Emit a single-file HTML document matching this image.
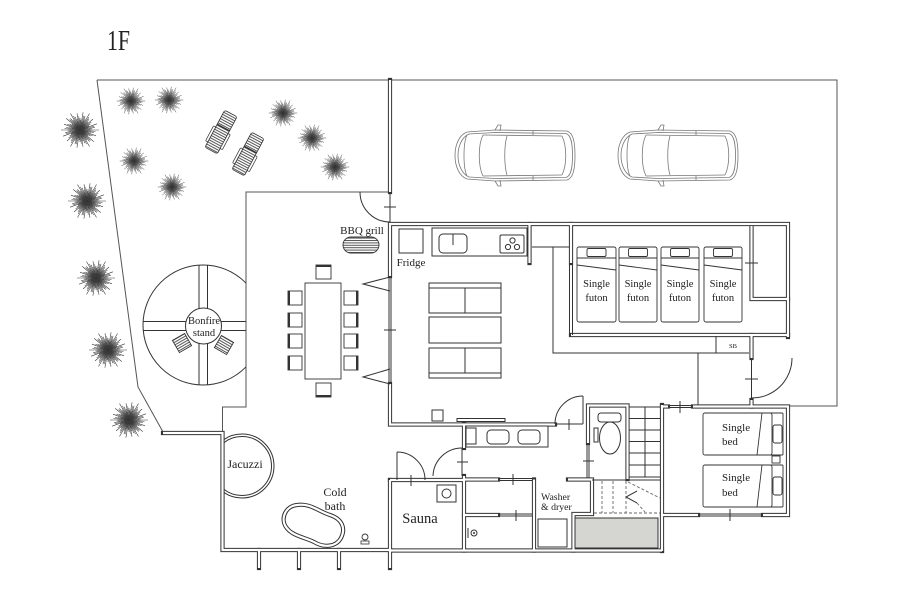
<!DOCTYPE html>
<html><head><meta charset="utf-8"><style>
html,body{margin:0;padding:0;background:#fff;}
svg{display:block;}
text{font-family:"Liberation Serif",serif;fill:#222;}
</style></head><body>
<svg width="900" height="600" viewBox="0 0 900 600" xmlns="http://www.w3.org/2000/svg">
<defs>
<pattern id="hh" width="4" height="2.4" patternUnits="userSpaceOnUse"><rect width="4" height="2.4" fill="#fff"/><rect width="4" height="1" fill="#555"/></pattern>
<clipPath id="bc"><circle cx="203" cy="325" r="60"/></clipPath>
<clipPath id="bx"><rect x="0" y="0" width="246" height="600"/></clipPath>
<clipPath id="jx"><rect x="224" y="0" width="200" height="600"/></clipPath>
<path id="sp" d="M0 0L19 0M0 0L13.8 2.4M0 0L16 5.8M0 0L10.4 6M0 0L13.8 11.6M0 0L9.6 11.5M0 0L9.5 16.5M0 0L4.8 13.2M0 0L3 16.7M0 0L0 12M0 0L-3.1 17.7M0 0L-5.1 14.1M0 0L-9.5 16.5M0 0L-9 10.7M0 0L-13 10.9M0 0L-10.4 6M0 0L-16.9 6.2M0 0L-14.8 2.6M0 0L-19 0M0 0L-13.8 -2.4M0 0L-16 -5.8M0 0L-10.4 -6M0 0L-13.8 -11.6M0 0L-9.6 -11.5M0 0L-9.5 -16.5M0 0L-4.8 -13.2M0 0L-3 -16.7M0 0L0 -12M0 0L3.1 -17.7M0 0L5.1 -14.1M0 0L9.5 -16.5M0 0L9 -10.7M0 0L13 -10.9M0 0L10.4 -6M0 0L16.9 -6.2M0 0L14.8 -2.6"/>
<g id="tree" stroke="#3a3a3a" stroke-width="0.6" fill="none">
<use href="#sp"/>
<use href="#sp" transform="rotate(5) scale(0.82)"/>
<use href="#sp" transform="rotate(-6) scale(0.55)"/>
<circle r="1.5" fill="#333" stroke="none"/>
</g>
<g id="lc">
<rect x="-7" y="-21" width="14" height="42" rx="2" fill="url(#hh)" stroke="#333" stroke-width="0.8"/>
<line x1="-7" y1="-5" x2="7" y2="-5" stroke="#333" stroke-width="1.4"/>
<rect x="-9.5" y="-2" width="2.5" height="17" rx="1" fill="#fff" stroke="#333" stroke-width="0.7"/>
<rect x="7" y="-2" width="2.5" height="17" rx="1" fill="#fff" stroke="#333" stroke-width="0.7"/>
</g>
<g id="car" fill="none" stroke="#777" stroke-width="0.8">
<path d="M12,4 C4,7 0,17 0,27.5 C0,38 4,48 12,51 L40,53 L112,52 C118,50 120,42 120,27.5 C120,13 118,5 112,3 L40,2 Z"/>
<path d="M14,6 C7,9 3,18 3,27.5 C3,37 7,46 14,49 L40,50.5 L111,49.5 C116,48 117.5,40 117.5,27.5 C117.5,15 116,7 111,5.5 L40,4.5 Z"/>
<path d="M28,7 C23,17 23,38 28,48"/>
<path d="M52,8 C49,18 49,37 52,47"/>
<path d="M107,8 C112,18 112,37 107,47"/>
<path d="M28,7 L107,8 M28,48 L107,47"/>
<path d="M12,7 C8,15 8,40 12,48"/>
<path d="M40,2 L43,-3 L46,-3 L45,3 M40,53 L43,58 L46,58 L45,52"/>
<path d="M78,3 L78,7 M78,48 L78,52"/>
</g>
<g id="W" fill="none">
<path d="M390,80V192"/>
<path d="M390,276V224H788V337"/>
<path d="M390,384V424.5H555"/>
<path d="M529.5,224V263"/>
<path d="M571,224V263"/>
<path d="M571,335H788"/>
<path d="M751.5,226V299H788"/>
<path d="M751.5,335V358"/>
<path d="M751.5,400V406.5H788V515H763"/>
<path d="M698,515H662"/>
<path d="M662,405V551"/>
<path d="M662,406.5H668"/>
<path d="M693,406.5H751.5"/>
<path d="M588,443V405.5H627.5V479"/>
<path d="M464,424V448"/>
<path d="M464,476V550.5"/>
<path d="M390,480H464"/>
<path d="M390,480V550.5H662"/>
<path d="M464,479.5H498"/>
<path d="M464,515H498"/>
<path d="M534,479.5V550.5"/>
<path d="M568,479.5H592V514H573.5V550.5"/>
<path d="M163,433H222.5V550H390"/>
<path d="M259,550V568M299,550V568M339,550V568M390,550V568"/>
<path d="M297,505 C310,503 318,511 330,515 C342,519 346,528 341,538 C336,547 324,548 314,542 C304,537 292,536 286,527 C280,518 286,506 297,505 Z"/>
</g>
</defs>

<rect width="900" height="600" fill="#fff"/>

<text x="107" y="50" font-size="29" textLength="23" lengthAdjust="spacingAndGlyphs">1F</text>

<g fill="none" stroke="#555" stroke-width="1">
<path d="M97,80H837V406H788"/>
<path d="M97,80L138,387L163,432"/>
<path d="M390,192H246V407H222.5V433"/>
</g>

<use href="#tree" transform="translate(131,101) scale(0.75)"/>
<use href="#tree" transform="translate(169,100) scale(0.75)"/>
<use href="#tree" transform="translate(80,130) scale(1)"/>
<use href="#tree" transform="translate(134,161) scale(0.75)"/>
<use href="#tree" transform="translate(172,187) scale(0.75)"/>
<use href="#tree" transform="translate(87,201) scale(1)"/>
<use href="#tree" transform="translate(283,113) scale(0.75)"/>
<use href="#tree" transform="translate(312,138) scale(0.75)"/>
<use href="#tree" transform="translate(335,167) scale(0.75)"/>
<use href="#tree" transform="translate(96,278) scale(1)"/>
<use href="#tree" transform="translate(108,350) scale(1)"/>
<use href="#tree" transform="translate(129,420) scale(1)"/>

<use href="#lc" transform="translate(221,132) rotate(28)"/>
<use href="#lc" transform="translate(248,154) rotate(28)"/>

<use href="#car" transform="translate(455,128)"/>
<use href="#car" transform="translate(618,128)"/>

<g clip-path="url(#bx)">
<circle cx="203" cy="325" r="60" fill="none" stroke="#333" stroke-width="1"/>
<g clip-path="url(#bc)" stroke="#333" stroke-width="1" fill="none">
<path d="M199,260V390M207.5,260V390M140,321.5H250M140,330.5H250"/>
</g>
</g>
<circle cx="203.5" cy="326" r="18" fill="#fff" stroke="#333" stroke-width="1"/>
<rect x="-7" y="-7" width="14" height="14" fill="url(#hh)" stroke="#333" stroke-width="0.9" transform="translate(182,343) rotate(-30)"/>
<rect x="-7" y="-7" width="14" height="14" fill="url(#hh)" stroke="#333" stroke-width="0.9" transform="translate(224,345) rotate(30)"/>
<text x="204" y="324" font-size="10.5" text-anchor="middle">Bonfire</text>
<text x="204" y="336" font-size="10.5" text-anchor="middle">stand</text>

<rect x="343" y="237" width="36" height="16" rx="8" fill="url(#hh)" stroke="#333" stroke-width="0.9"/>
<text x="362" y="234" font-size="11" text-anchor="middle">BBQ grill</text>

<g fill="#fff" stroke="#333" stroke-width="0.9">
<rect x="305" y="283" width="36" height="96"/>
<rect x="288" y="291" width="14" height="14"/><rect x="288" y="313" width="14" height="14"/><rect x="288" y="334" width="14" height="14"/><rect x="288" y="356" width="14" height="14"/>
<rect x="344" y="291" width="14" height="14"/><rect x="344" y="313" width="14" height="14"/><rect x="344" y="334" width="14" height="14"/><rect x="344" y="356" width="14" height="14"/>
<rect x="316" y="265" width="15" height="14"/><rect x="316" y="383" width="15" height="14"/>
</g>
<g stroke="#333" stroke-width="2" fill="none">
<path d="M289,291V305M289,313V327M289,334V348M289,356V370"/>
<path d="M357,291V305M357,313V327M357,334V348M357,356V370"/>
<path d="M316,266H331M316,396H331"/>
</g>

<g clip-path="url(#jx)" fill="none" stroke="#333" stroke-width="1">
<circle cx="242" cy="466" r="32"/>
<circle cx="242" cy="466" r="29.5"/>
</g>
<text x="245" y="468" font-size="12" text-anchor="middle">Jacuzzi</text>
<text x="335" y="496" font-size="12" text-anchor="middle">Cold</text>
<text x="335" y="510" font-size="12" text-anchor="middle">bath</text>
<circle cx="365" cy="537" r="3" fill="none" stroke="#333" stroke-width="0.9"/>
<rect x="361" y="541" width="8" height="3" fill="none" stroke="#333" stroke-width="0.8"/>

<use href="#W" stroke="#333" stroke-width="4.2" stroke-linecap="square"/>
<use href="#W" stroke="#fff" stroke-width="2.2" stroke-linecap="butt"/>

<g fill="none" stroke="#333" stroke-width="1">
<path d="M553,247V353H749"/>
<path d="M532,247H569"/>
<path d="M698,353V405"/>
<path d="M716,336V353"/>
<path d="M390,192V222M751.5,358V400M583,396V424M462,448V476M397,452V480"/>
<path d="M360,192A30,30 0 0 0 390,222"/>
<path d="M792,358A40,40 0 0 1 752,398"/>
<path d="M555,424A28,28 0 0 1 583,396"/>
<path d="M433,476A29,29 0 0 1 462,448"/>
<path d="M397,452A28,28 0 0 1 425,480"/>
<path d="M668,405.5H693M668,407.5H693"/>
<path d="M698,514H763M698,516H763"/>
<path d="M498,478.5H532M498,480.5H532"/>
<path d="M498,514H532M498,516H532"/>
<path d="M587,443V478M589,443V478"/>
<path d="M389,276V384M391,276V384"/>
<path d="M569.5,263V335M572.5,263V335"/>
<path d="M555,424H583"/>
<path d="M384,207H396M384,330H396M745,263H758M745,379H758M680,401V413M730,509V521M569,419V430M457,462H468M411,475V486M513,474V485M516,510V521M583,461H594"/>
<path d="M390,277L363,284L390,291M390,369L363,377L390,384"/>
<path d="M629.5,407H660M629.5,418.5H660M629.5,430H660M629.5,441.5H660M629.5,453H660M629.5,465H660M629.5,477H660M645,407V477"/>
<path d="M592,480H660"/>
<path d="M637,491L626,497L637,503"/>
</g>
<g fill="none" stroke="#666" stroke-width="0.9" stroke-dasharray="3,2">
<path d="M602,481V513M613,481V513M626,481V513M594,513H660"/>
<path d="M628,482L660,498M637,503L645,512"/>
</g>
<rect x="575" y="518" width="83" height="30" fill="#d5d5d1" stroke="#333" stroke-width="1"/>

<g fill="#fff" stroke="#333" stroke-width="1">
<rect x="399" y="229" width="24" height="24"/>
<rect x="432" y="228" width="95" height="28"/>
<rect x="439" y="234" width="28" height="19" rx="4"/>
<rect x="500" y="235" width="24" height="18" rx="1.5"/>
<circle cx="508" cy="247" r="2.6"/><circle cx="512.5" cy="240.5" r="2.6"/><circle cx="517" cy="247" r="2.6"/>
</g>
<path d="M453,234V245" stroke="#333" stroke-width="1"/>
<text x="411" y="266" font-size="11" text-anchor="middle">Fridge</text>

<g fill="#fff" stroke="#333" stroke-width="1">
<rect x="429" y="283" width="72" height="30"/>
<rect x="429" y="317" width="72" height="26"/>
<rect x="429" y="348" width="72" height="30"/>
<rect x="432" y="410" width="11" height="11"/>
<rect x="457" y="418.5" width="48" height="3"/>
</g>
<path d="M429,288H501M465,288V313M465,348V373M429,373H501" stroke="#333" stroke-width="1" fill="none"/>

<g fill="#fff" stroke="#333" stroke-width="0.9">
<rect x="577" y="247" width="39" height="75" rx="2"/>
<rect x="619" y="247" width="38" height="75" rx="2"/>
<rect x="661" y="247" width="38" height="75" rx="2"/>
<rect x="704" y="247" width="38" height="75" rx="2"/>
<rect x="587" y="248.5" width="19" height="8" rx="1.5"/>
<rect x="628.5" y="248.5" width="19" height="8" rx="1.5"/>
<rect x="670.5" y="248.5" width="19" height="8" rx="1.5"/>
<rect x="713.5" y="248.5" width="19" height="8" rx="1.5"/>
</g>
<path d="M577,258H616M619,258H657M661,258H699M704,258H742M577,265L616,270M619,265L657,270M661,265L699,270M704,265L742,270" stroke="#333" stroke-width="0.9" fill="none"/>
<g font-size="10.5" text-anchor="middle">
<text x="596.5" y="287">Single</text><text x="596.5" y="301">futon</text>
<text x="638" y="287">Single</text><text x="638" y="301">futon</text>
<text x="680" y="287">Single</text><text x="680" y="301">futon</text>
<text x="723" y="287">Single</text><text x="723" y="301">futon</text>
</g>
<text x="733" y="348" font-size="6.5" text-anchor="middle">SB</text>

<g fill="#fff" stroke="#333" stroke-width="0.9">
<rect x="770" y="413" width="13" height="42" rx="1"/>
<rect x="770" y="465" width="13" height="42" rx="1"/>
<rect x="703" y="413" width="69" height="42" rx="2"/>
<rect x="703" y="465" width="69" height="42" rx="2"/>
<rect x="773" y="425" width="9" height="18" rx="2"/>
<rect x="773" y="477" width="9" height="18" rx="2"/>
<rect x="772" y="456" width="8" height="7"/>
</g>
<path d="M762,413L757,455M762,465L757,507" stroke="#333" stroke-width="0.9"/>
<g font-size="11">
<text x="722" y="431">Single</text><text x="722" y="445">bed</text>
<text x="722" y="481">Single</text><text x="722" y="496">bed</text>
</g>

<g fill="#fff" stroke="#333" stroke-width="1">
<rect x="466" y="426" width="82" height="21"/>
<rect x="466" y="428" width="10" height="16"/>
<rect x="487" y="430" width="22" height="14" rx="4"/>
<rect x="518" y="430" width="22" height="14" rx="4"/>
<ellipse cx="610" cy="438" rx="10.5" ry="16"/>
<rect x="598" y="413" width="23" height="9" rx="3"/>
<rect x="594" y="428" width="4" height="14"/>
<rect x="538" y="519" width="29" height="28"/>
<rect x="437" y="485" width="19" height="17"/>
<circle cx="446.5" cy="493.5" r="4.5"/>
<circle cx="474" cy="533" r="3"/>
</g>
<path d="M468,528V538" stroke="#333" stroke-width="1"/>
<circle cx="474" cy="533" r="1" fill="#333"/>
<text x="420" y="523" font-size="14.5" text-anchor="middle">Sauna</text>
<text x="541" y="500" font-size="9.8">Washer</text>
<text x="541" y="510" font-size="9.8">&amp; dryer</text>
</svg>
</body></html>
